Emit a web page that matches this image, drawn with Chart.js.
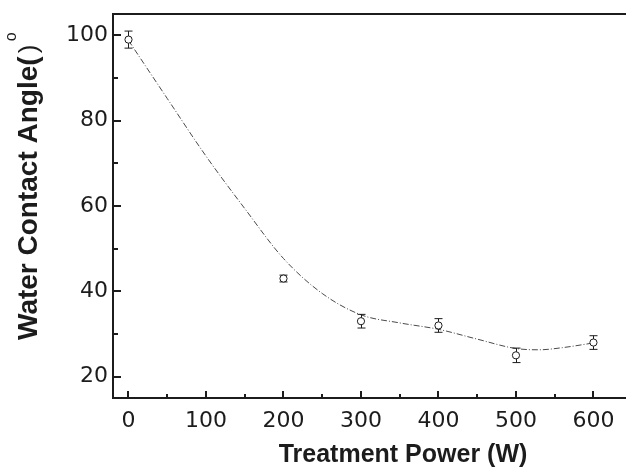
<!DOCTYPE html>
<html>
<head>
<meta charset="utf-8">
<script src="https://cdn.jsdelivr.net/npm/chart.js@4.4.1/dist/chart.umd.min.js"></script>
<style>
  html, body { margin: 0; padding: 0; background: #fff; }
  canvas { display: block; }
</style>
</head>
<body>
<canvas id="chart" width="626" height="474"></canvas>
<script>
// measured points
const powers = [0, 200, 300, 400, 500, 600];
const angles = [99, 43, 33, 32, 25, 28];
const errors = [2, 0.8, 1.6, 1.6, 1.7, 1.6];

// fitted curve
const fitX = [0, 50, 100, 150, 200, 250, 300, 350, 400, 450, 500, 530, 560, 600];
const fitY = [98.8, 85.2, 71.7, 59.4, 47.7, 39.5, 34.5, 32.6, 31.1, 28.8, 26.6, 26.3, 26.8, 27.9];

// axis ticks
const xTicks = [0, 100, 200, 300, 400, 500, 600];
const xMinor = [50, 150, 250, 350, 450, 550];
const yTicks = [20, 40, 60, 80, 100];
const yMinor = [30, 50, 70, 90];

const ink = "#1c1c1c";

const frame = {
  id: "frame",
  beforeDatasetDraw(chart, args) {
    if (args.index !== 0) return;
    const { ctx, scales: { x, y } } = chart;
    ctx.save();
    ctx.strokeStyle = ink;
    ctx.lineWidth = 1;
    powers.forEach((p, i) => {
      const px = Math.round(x.getPixelForValue(p)) + 0.5;
      const top = y.getPixelForValue(angles[i] + errors[i]);
      const bot = y.getPixelForValue(angles[i] - errors[i]);
      ctx.beginPath();
      ctx.moveTo(px, top);
      ctx.lineTo(px, bot);
      ctx.moveTo(px - 4, top);
      ctx.lineTo(px + 4, top);
      ctx.moveTo(px - 4, bot);
      ctx.lineTo(px + 4, bot);
      ctx.stroke();
    });
    ctx.restore();
  },
  afterDraw(chart) {
    const { ctx, chartArea: a, scales: { x, y } } = chart;
    ctx.save();
    ctx.strokeStyle = ink;
    // top frame line
    ctx.lineWidth = 2;
    ctx.beginPath();
    ctx.moveTo(a.left, a.top);
    ctx.lineTo(a.right, a.top);
    ctx.stroke();
    // inward ticks
    const tick = (vals, len, axis) => {
      vals.forEach(v => {
        ctx.beginPath();
        if (axis === "x") {
          const px = Math.round(x.getPixelForValue(v));
          ctx.moveTo(px, a.bottom);
          ctx.lineTo(px, a.bottom - len);
        } else {
          const py = Math.round(y.getPixelForValue(v));
          ctx.moveTo(a.left, py);
          ctx.lineTo(a.left + len, py);
        }
        ctx.stroke();
      });
    };
    tick(xTicks, 7, "x");
    tick(xMinor, 4, "x");
    tick(yTicks, 8, "y");
    tick(yMinor, 5, "y");

    // axis titles
    ctx.fillStyle = ink;
    ctx.textBaseline = "alphabetic";
    ctx.font = "bold 25px 'Liberation Sans', Arial, sans-serif";
    ctx.textAlign = "center";
    ctx.fillText("Treatment Power (W)", 403, 462);

    ctx.translate(37, 340);
    ctx.rotate(-Math.PI / 2);
    ctx.textAlign = "left";
    ctx.font = "bold 28px 'Liberation Sans', Arial, sans-serif";
    const main = "Water Contact Angle(";
    ctx.fillText(main, 0, 0);
    const w = ctx.measureText(main).width;
    ctx.font = "26px 'Liberation Sans', Arial, sans-serif";
    ctx.fillText(")", w + 3, 0);
    ctx.font = "16px 'Liberation Sans', Arial, sans-serif";
    ctx.fillText("o", w + 15, -21);
    ctx.restore();
  }
};

const ctx = document.getElementById("chart").getContext("2d");
const chart = new Chart(ctx, {
  data: {
    datasets: [
      {
        type: "scatter",
        label: "Contact angle",
        data: powers.map((p, i) => ({ x: p, y: angles[i] })),
        pointStyle: "circle",
        pointRadius: 3.6,
        pointBorderWidth: 1,
        borderColor: ink,
        backgroundColor: "#fff",
        order: 0,
      },
      {
        type: "line",
        label: "Fit",
        data: fitX.map((v, i) => ({ x: v, y: fitY[i] })),
        borderColor: "#4a4a4a",
        borderWidth: 1,
        borderDash: [6, 2, 1, 2],
        pointRadius: 0,
        cubicInterpolationMode: "monotone",
        fill: false,
        order: 1,
      },
    ],
  },
  options: {
    responsive: false,
    devicePixelRatio: 1,
    animation: false,
    layout: { autoPadding: false, padding: { top: 14, right: 0, left: 0, bottom: 0 } },
    plugins: {
      legend: { display: false },
      tooltip: { enabled: false },
    },
    scales: {
      x: {
        type: "linear",
        min: -20,
        max: 642,
        grid: { display: false, drawTicks: false },
        border: { display: true, color: ink, width: 2 },
        afterBuildTicks: (s) => { s.ticks = xTicks.map(v => ({ value: v })); },
        afterFit: (s) => {
          s.height = 76;
          s.paddingLeft = 0; s.paddingRight = 0;
        },
        ticks: {
          autoSkip: false,
          maxRotation: 0,
          padding: 10,
          color: ink,
          font: { family: "'DejaVu Sans', sans-serif", size: 22 },
        },
      },
      y: {
        type: "linear",
        min: 15,
        max: 105,
        grid: { display: false, drawTicks: false },
        border: { display: true, color: ink, width: 2 },
        afterBuildTicks: (s) => { s.ticks = yTicks.map(v => ({ value: v })); },
        afterFit: (s) => {
          s.width = 113;
          s.paddingTop = 0; s.paddingBottom = 0;
        },
        ticks: {
          padding: 5,
          color: ink,
          font: { family: "'DejaVu Sans', sans-serif", size: 22 },
        },
      },
    },
  },
  plugins: [frame],
});
</script>
</body>
</html>
